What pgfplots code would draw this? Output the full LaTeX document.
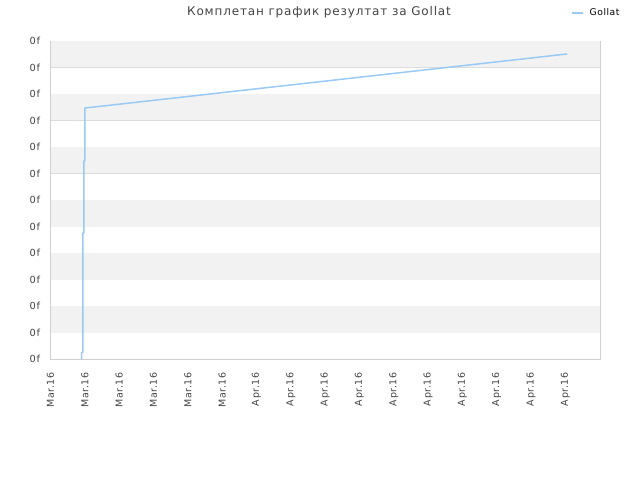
\documentclass[border=0pt]{standalone}
\usepackage{pgfplots}
\pgfplotsset{compat=1.18}
\usepackage{fontspec}
\setmainfont{DejaVu Sans}
\newfontfamily\tickfont[LetterSpace=6]{DejaVu Sans}
\newfontfamily\titlefont[LetterSpace=7]{DejaVu Sans}

\definecolor{band}{HTML}{F2F2F2}
\definecolor{gridc}{HTML}{DCDCDC}
\definecolor{framec}{HTML}{D0D0D0}
\definecolor{linec}{HTML}{99C9F5}
\definecolor{txt}{HTML}{444444}

\begin{document}
\begin{tikzpicture}
\path (0pt,0pt) rectangle (640pt,480pt);
\begin{axis}[
  at={(50.5pt,121pt)}, anchor=south west,
  scale only axis, width=549.5pt, height=318pt,
  xmin=0, xmax=16.01, ymin=0, ymax=12,
  axis line style={framec},
  xtick={0,1,...,15},
  xticklabels={Mar.16,Mar.16,Mar.16,Mar.16,Mar.16,Mar.16,Apr.16,Apr.16,Apr.16,Apr.16,Apr.16,Apr.16,Apr.16,Apr.16,Apr.16,Apr.16},
  x tick label style={rotate=90, anchor=east, font=\tickfont\fontsize{9.5}{10}\selectfont, text=txt},
  xticklabel shift=10pt,
  ytick={0,1,...,12},
  yticklabel={0f},
  y tick label style={font=\tickfont\fontsize{9.8}{10}\selectfont, text=txt},
  yticklabel shift=7pt,
  major tick length=0pt,
  ymajorgrids, grid style={gridc, line width=0.6pt},
  legend style={at={(1.045,1.088)}, anchor=east, draw=none, fill=none,
    font=\tickfont\fontsize{9.2}{10}\selectfont, legend cell align=left},
  legend image code/.code={\draw[#1, line width=1.8pt] (0pt,0pt) -- (11pt,0pt); \path (15pt,0pt);},
]
\fill[band] (axis cs:0,1) rectangle (axis cs:16.01,2);
\fill[band] (axis cs:0,3) rectangle (axis cs:16.01,4);
\fill[band] (axis cs:0,5) rectangle (axis cs:16.01,6);
\fill[band] (axis cs:0,7) rectangle (axis cs:16.01,8);
\fill[band] (axis cs:0,9) rectangle (axis cs:16.01,10);
\fill[band] (axis cs:0,11) rectangle (axis cs:16.01,12);
\addplot[linec, line width=1.5pt, line join=round] coordinates {
  (0.91,0) (0.91,0.25) (0.94,0.25) (0.94,4.75) (0.97,4.75) (0.97,7.47) (1.0,7.47) (1.0,9.47) (15.05,11.51)
};
\addlegendentry{Gollat}
\end{axis}
\node[text=txt, font=\titlefont\fontsize{12}{14}\selectfont] at (319pt,468pt) {Комплетан график резултат за Gollat};
\end{tikzpicture}
\end{document}
